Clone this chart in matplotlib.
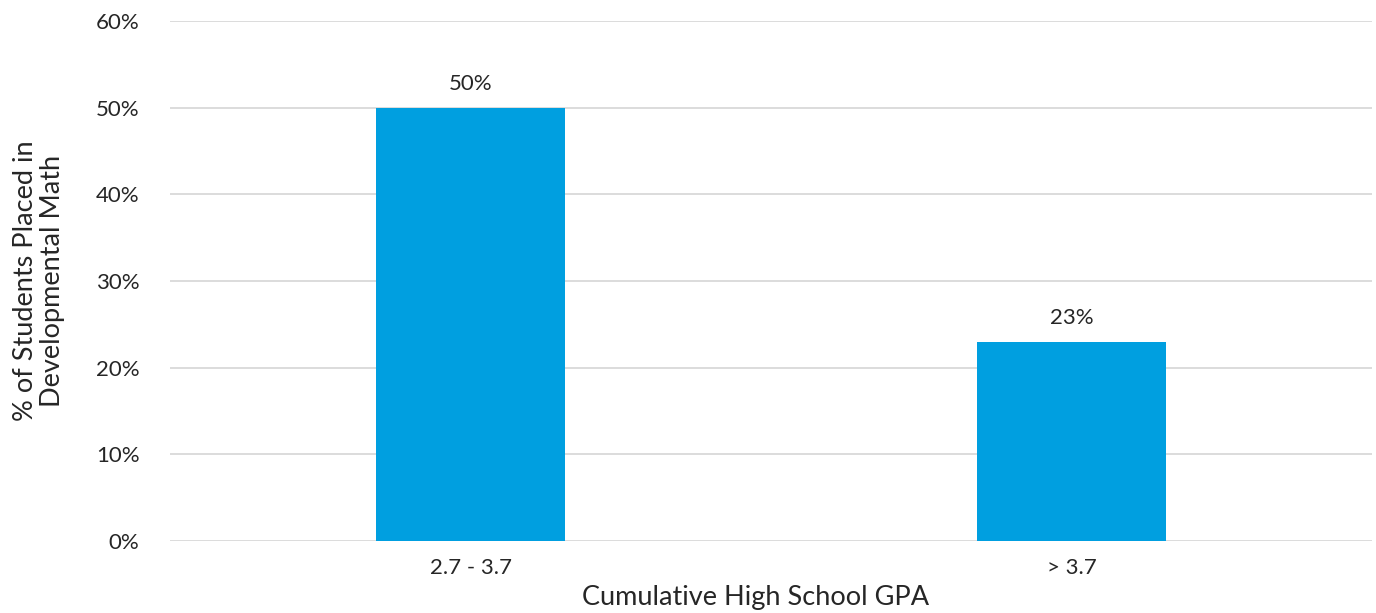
import matplotlib
matplotlib.use("Agg")
import matplotlib.pyplot as plt
from matplotlib.ticker import PercentFormatter

categories = ["2.7 - 3.7", "> 3.7"]
values = [50, 23]
yticks = [0, 10, 20, 30, 40, 50, 60]

plt.rcParams['font.family'] = ['Lato', 'DejaVu Sans']

fig = plt.figure(figsize=(13.76, 6.13), dpi=100)
ax = fig.add_axes([170/1376, 72/613, 1202/1376, 520/613])

x = list(range(len(categories)))
bars = ax.bar(x, values, width=0.313, color="#009FE0", zorder=3)
for xi, v in zip(x, values):
    ax.text(xi, v + 1.6, f"{v}%", ha="center", va="bottom", fontsize=16, color="#262626")

ax.set_xlim(-0.5, 1.5)
ax.set_ylim(0, 60)
ax.set_yticks(yticks)
ax.yaxis.set_major_formatter(PercentFormatter(decimals=0))
ax.set_xticks(x)
ax.set_xticklabels(categories)
ax.tick_params(axis='both', length=0, labelsize=16, labelcolor="#262626")
ax.tick_params(axis='x', pad=12)
ax.tick_params(axis='y', pad=22)
ax.grid(axis='y', color="#D9D9D9", linewidth=1.3, zorder=0)
for s in ax.spines.values():
    s.set_visible(False)

ax.set_xlabel("Cumulative High School GPA", fontsize=19.5, color="#262626", labelpad=0)
ax.xaxis.set_label_coords(0.4875, -0.085)
ax.set_ylabel("% of Students Placed in\nDevelopmental Math", fontsize=19.5, color="#262626", labelpad=22, linespacing=1.12)

fig.savefig("out.png", dpi=100)
